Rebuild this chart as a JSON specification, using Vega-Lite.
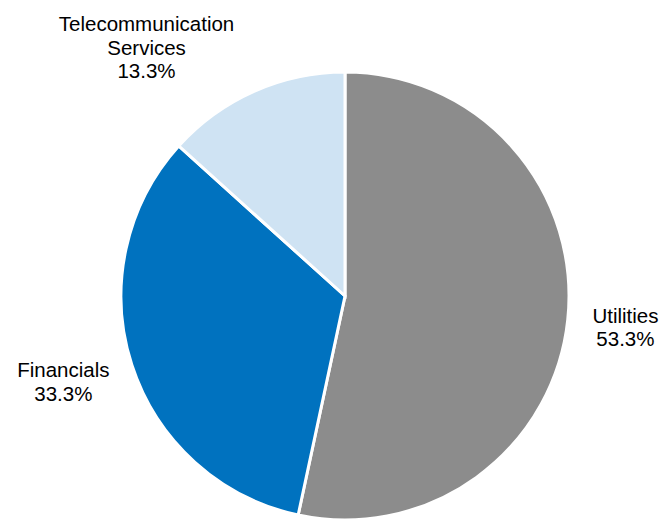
{
  "$schema": "https://vega.github.io/schema/vega-lite/v6.json",
  "width": 690,
  "height": 592,
  "autosize": "none",
  "padding": 0,
  "background": "white",
  "config": {"view": {"stroke": null}},
  "data": {
    "values": [
      {"sector": "Utilities", "share": 53.3, "order": 1, "label": "Utilities\n53.3%"},
      {"sector": "Financials", "share": 33.3, "order": 2, "label": "Financials\n33.3%"},
      {"sector": "Telecommunication Services", "share": 13.3, "order": 3, "label": "Telecommunication\nServices\n13.3%"}
    ]
  },
  "encoding": {
    "theta": {"field": "share", "type": "quantitative", "stack": true},
    "order": {"field": "order", "type": "quantitative"}
  },
  "layer": [
    {
      "mark": {"type": "arc", "outerRadius": 224, "stroke": "white", "strokeWidth": 3},
      "encoding": {
        "color": {
          "field": "sector",
          "type": "nominal",
          "scale": {
            "domain": ["Utilities", "Financials", "Telecommunication Services"],
            "range": ["#8c8c8c", "#0072bf", "#cfe3f3"]
          },
          "legend": null
        }
      }
    },
    {
      "mark": {"type": "text", "radius": 282, "dy": -9, "font": "Liberation Sans", "fontSize": 20.5, "lineHeight": 23.5, "lineBreak": "\n", "fill": "black", "align": "center", "baseline": "middle"},
      "encoding": {
        "text": {"condition": {"test": "datum.sector === 'Utilities'", "field": "label"}, "value": ""}
      }
    },
    {
      "mark": {"type": "text", "radius": 296, "dy": -16, "font": "Liberation Sans", "fontSize": 20.5, "lineHeight": 23.5, "lineBreak": "\n", "fill": "black", "align": "center", "baseline": "middle"},
      "encoding": {
        "text": {"condition": {"test": "datum.sector === 'Financials'", "field": "label"}, "value": ""}
      }
    },
    {
      "mark": {"type": "text", "radius": 272, "dx": -88, "dy": -22, "font": "Liberation Sans", "fontSize": 20.5, "lineHeight": 23.5, "lineBreak": "\n", "fill": "black", "align": "center", "baseline": "middle"},
      "encoding": {
        "text": {"condition": {"test": "datum.sector === 'Telecommunication Services'", "field": "label"}, "value": ""}
      }
    }
  ]
}
